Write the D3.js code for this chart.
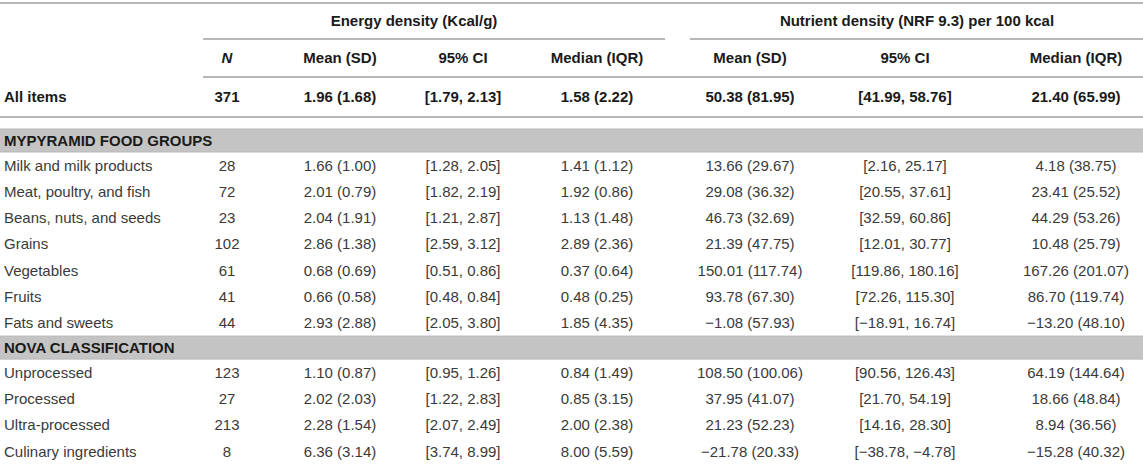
<!DOCTYPE html>
<html>
<head>
<meta charset="utf-8">
<script src="https://cdn.jsdelivr.net/npm/d3@7"></script>
<style>
  html, body { margin: 0; padding: 0; background: #fff; }
  svg { display: block; font-family: "Liberation Sans", Arial, Helvetica, sans-serif; }
</style>
</head>
<body>
<svg id="table"></svg>
<script>
const groupHeaders = ['Energy density (Kcal/g)', 'Nutrient density (NRF 9.3) per 100 kcal'];
const columnKeys = ['label', 'n', 'eMean', 'eCI', 'eMedian', 'nMean', 'nCI', 'nMedian'];
const columnHeaders = ['', 'N', 'Mean (SD)', '95% CI', 'Median (IQR)', 'Mean (SD)', '95% CI', 'Median (IQR)'];

const allItems = ['All items', '371', '1.96 (1.68)', '[1.79, 2.13]', '1.58 (2.22)', '50.38 (81.95)', '[41.99, 58.76]', '21.40 (65.99)'];

const sections = ['MYPYRAMID FOOD GROUPS', 'NOVA CLASSIFICATION'];

const foodGroupRows = [
    ['Milk and milk products', '28', '1.66 (1.00)', '[1.28, 2.05]', '1.41 (1.12)', '13.66 (29.67)', '[2.16, 25.17]', '4.18 (38.75)'],
    ['Meat, poultry, and fish', '72', '2.01 (0.79)', '[1.82, 2.19]', '1.92 (0.86)', '29.08 (36.32)', '[20.55, 37.61]', '23.41 (25.52)'],
    ['Beans, nuts, and seeds', '23', '2.04 (1.91)', '[1.21, 2.87]', '1.13 (1.48)', '46.73 (32.69)', '[32.59, 60.86]', '44.29 (53.26)'],
    ['Grains', '102', '2.86 (1.38)', '[2.59, 3.12]', '2.89 (2.36)', '21.39 (47.75)', '[12.01, 30.77]', '10.48 (25.79)'],
    ['Vegetables', '61', '0.68 (0.69)', '[0.51, 0.86]', '0.37 (0.64)', '150.01 (117.74)', '[119.86, 180.16]', '167.26 (201.07)'],
    ['Fruits', '41', '0.66 (0.58)', '[0.48, 0.84]', '0.48 (0.25)', '93.78 (67.30)', '[72.26, 115.30]', '86.70 (119.74)'],
    ['Fats and sweets', '44', '2.93 (2.88)', '[2.05, 3.80]', '1.85 (4.35)', '\u22121.08 (57.93)', '[\u221218.91, 16.74]', '\u221213.20 (48.10)']
];

const novaRows = [
    ['Unprocessed', '123', '1.10 (0.87)', '[0.95, 1.26]', '0.84 (1.49)', '108.50 (100.06)', '[90.56, 126.43]', '64.19 (144.64)'],
    ['Processed', '27', '2.02 (2.03)', '[1.22, 2.83]', '0.85 (3.15)', '37.95 (41.07)', '[21.70, 54.19]', '18.66 (48.84)'],
    ['Ultra-processed', '213', '2.28 (1.54)', '[2.07, 2.49]', '2.00 (2.38)', '21.23 (52.23)', '[14.16, 28.30]', '8.94 (36.56)'],
    ['Culinary ingredients', '8', '6.36 (3.14)', '[3.74, 8.99]', '8.00 (5.59)', '\u221221.78 (20.33)', '[\u221238.78, \u22124.78]', '\u221215.28 (40.32)']
];

// layout
const width = 1143, height = 468;
const fontSize = 15;
const ruleColor = '#b8b8b8';
const textColor = '#3a3a3a';
const boldColor = '#1a1a1a';

const svg = d3.select('#table')
        .attr('width', width)
        .attr('height', height);

// column centres (label column is left aligned)
const colX = d3.scaleOrdinal()
        .domain(columnKeys)
        .range([4, 227, 340, 463, 597, 750, 905, 1076]);

const groupX = d3.scaleOrdinal()
        .domain(groupHeaders)
        .range([414, 917]);

function anchorFor(key) {
    return key === 'label' ? 'start' : 'middle';
}

function hRule(y, x1, x2, w = 2) {
    svg.append('line')
            .attr('x1', x1).attr('x2', x2)
            .attr('y1', y).attr('y2', y)
            .attr('stroke', ruleColor)
            .attr('stroke-width', w);
}

function drawRow(cells, yMid, bold) {
    svg.append('g')
            .selectAll('text')
            .data(cells.map((v, i) => ({key: columnKeys[i], value: v})))
            .join('text')
            .attr('x', d => colX(d.key))
            .attr('y', yMid)
            .attr('dy', '0.36em')
            .attr('text-anchor', d => anchorFor(d.key))
            .attr('font-size', fontSize)
            .attr('font-weight', bold ? 'bold' : 'normal')
            .attr('fill', bold ? boldColor : textColor)
            .text(d => d.value);
}

// header block
hRule(3, 0, width);

svg.append('g')
        .selectAll('text')
        .data(groupHeaders)
        .join('text')
        .attr('x', d => groupX(d))
        .attr('y', 21)
        .attr('dy', '0.36em')
        .attr('text-anchor', 'middle')
        .attr('font-size', fontSize)
        .attr('font-weight', 'bold')
        .attr('fill', boldColor)
        .text(d => d);

hRule(39, 203, 665);
hRule(39, 690, width);

svg.append('g')
        .selectAll('text')
        .data(columnHeaders.map((v, i) => ({key: columnKeys[i], value: v})).filter(d => d.value))
        .join('text')
        .attr('x', d => colX(d.key))
        .attr('y', 58)
        .attr('dy', '0.36em')
        .attr('text-anchor', 'middle')
        .attr('font-size', fontSize)
        .attr('font-weight', 'bold')
        .attr('font-style', d => d.key === 'n' ? 'italic' : 'normal')
        .attr('fill', boldColor)
        .text(d => d.value);

hRule(77, 203, width);

drawRow(allItems, 97, true);

hRule(117, 0, width);

// sections
function drawSection(title, rows, top, bandHeight, rowHeight) {
    svg.append('rect')
            .attr('x', 0).attr('y', top)
            .attr('width', width).attr('height', bandHeight)
            .attr('fill', '#c4c4c4');
    hRule(top, 0, width, 1);
    hRule(top + bandHeight, 0, width, 1);
    svg.append('text')
            .attr('x', 4)
            .attr('y', top + bandHeight / 2)
            .attr('dy', '0.36em')
            .attr('font-size', fontSize)
            .attr('font-weight', 'bold')
            .attr('fill', boldColor)
            .text(title);

    const y = d3.scaleBand()
            .domain(rows.map(r => r[0]))
            .range([top + bandHeight, top + bandHeight + rows.length * rowHeight]);

    rows.forEach(r => drawRow(r, y(r[0]) + y.bandwidth() / 2, false));
    return top + bandHeight + rows.length * rowHeight;
}

const rowH = 26.3;
let next = drawSection(sections[0], foodGroupRows, 129, 23, rowH);
drawSection(sections[1], novaRows, next, 23, rowH);
</script>
</body>
</html>
